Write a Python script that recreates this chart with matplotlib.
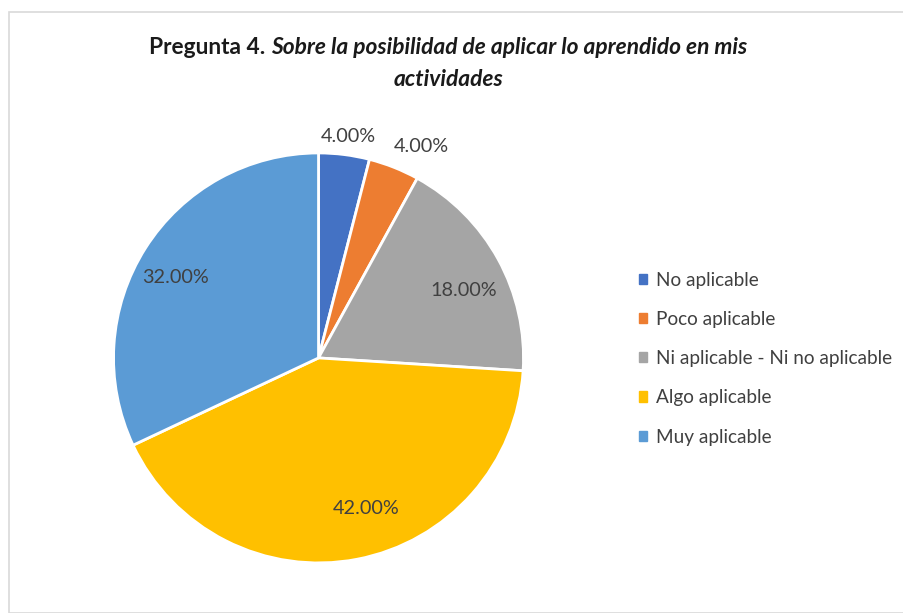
import numpy as np
import matplotlib.pyplot as plt
from matplotlib.patches import Rectangle

categories = ["No aplicable", "Poco aplicable", "Ni aplicable - Ni no aplicable",
              "Algo aplicable", "Muy aplicable"]
values = [4.0, 4.0, 18.0, 42.0, 32.0]
colors = ["#4472C4", "#ED7D31", "#A5A5A5", "#FFC000", "#5B9BD5"]
# % label placement: distance from centre (radii) and angle nudge (deg, clockwise)
label_dist = [1.09, 1.145, 0.78, 0.77, 0.80]
label_nudge = [0.4, 4.3, 4.0, -6.7, -3.0]

plt.rcParams['font.family'] = ['Lato', 'DejaVu Sans']

fig = plt.figure(figsize=(9.04, 6.13), dpi=100)

# light chart border
fig.patches.append(Rectangle((9/904, 0), 1, 1 - 12/613, transform=fig.transFigure,
                             fill=False, edgecolor="#d9d9d9", linewidth=1.2))

ax = fig.add_axes([0.1256, 0.0816, 0.4535, 0.669])
wedges, texts, autotexts = ax.pie(values, colors=colors, startangle=90, counterclock=False,
                                  autopct='%.2f%%', pctdistance=0.8,
                                  wedgeprops=dict(edgecolor='white', linewidth=2))
for w, t, d, n in zip(wedges, autotexts, label_dist, label_nudge):
    ang = np.deg2rad((w.theta1 + w.theta2) / 2 - n)
    t.set_position((d * np.cos(ang), d * np.sin(ang)))
    t.set_fontsize(14.3)
    t.set_color("#404040")
ax.set_xlim(-1, 1)
ax.set_ylim(-1, 1)
ax.set_aspect('equal')

# title: bold prefix, bold italic rest, laid out as one centred line
tsize = 16.4
t1 = fig.text(0, 1 - 47/613, "Pregunta 4. ", fontsize=tsize, fontweight='bold',
              color='#1a1a1a', va='center', ha='left')
t2 = fig.text(0, 1 - 47/613, "Sobre la posibilidad de aplicar lo aprendido en mis",
              fontsize=tsize, fontweight='bold', style='italic', color='#1a1a1a',
              va='center', ha='left')
fig.canvas.draw()
r = fig.canvas.get_renderer()
w1 = t1.get_window_extent(r).width
w2 = t2.get_window_extent(r).width
x0 = 448 - (w1 + w2) / 2
t1.set_x(x0 / 904)
t2.set_x((x0 + w1) / 904)
fig.text(448/904, 1 - 79/613, "actividades", fontsize=tsize, fontweight='bold',
         style='italic', color='#1a1a1a', va='center', ha='center')

handles = [Rectangle((0, 0), 1, 1, color=c) for c in colors]
fig.legend(handles, categories, loc='upper left', bbox_to_anchor=(0.696, 1 - 262/613),
           frameon=False, fontsize=13.7, labelcolor="#404040", handlelength=0.45,
           handleheight=0.45, handletextpad=0.45, labelspacing=1.17, borderpad=0)

fig.savefig("out.png", dpi=100)
